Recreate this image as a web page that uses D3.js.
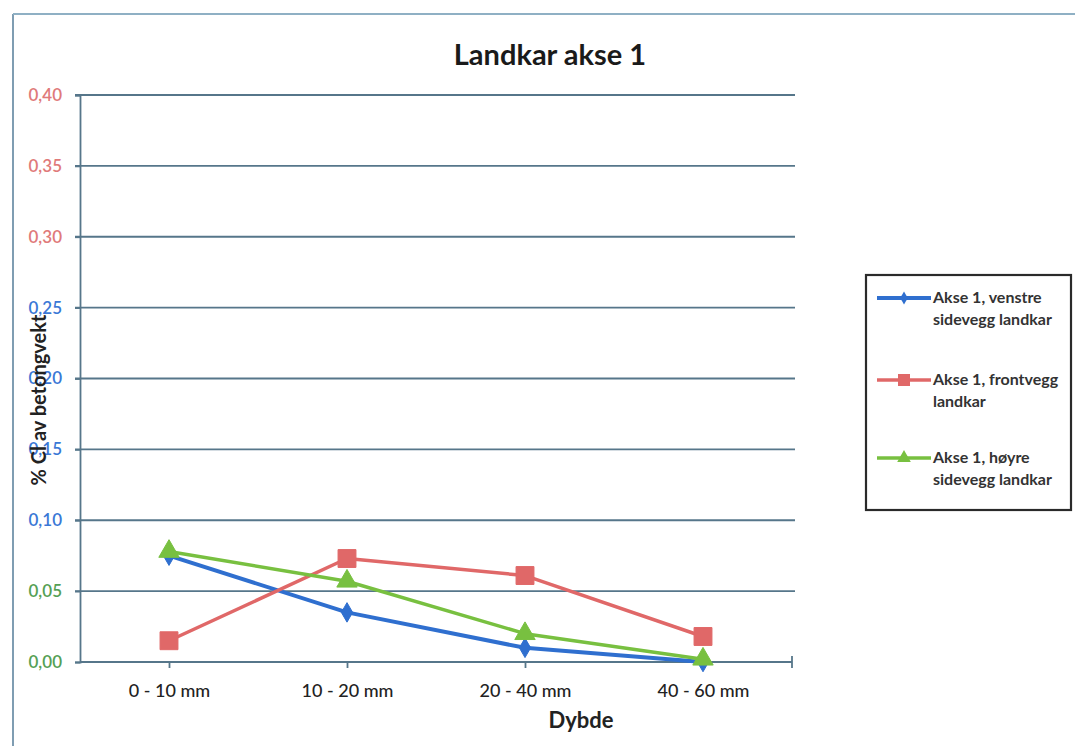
<!DOCTYPE html>
<html>
<head>
<meta charset="utf-8">
<script src="https://cdn.jsdelivr.net/npm/d3@7/dist/d3.min.js"></script>
<style>
  html, body { margin: 0; padding: 0; background: #fff; }
  svg { display: block; }
</style>
</head>
<body>
<svg id="chart" width="1075" height="746"></svg>
<script>
// ---- data ----
const categories = ["0 - 10 mm", "10 - 20 mm", "20 - 40 mm", "40 - 60 mm"];
const venstre = [0.075, 0.035, 0.010, 0.000];
const frontvegg = [0.015, 0.073, 0.061, 0.018];
const hoyre = [0.078, 0.057, 0.020, 0.002];
const seriesNames = [
  ["Akse 1, venstre", "sidevegg landkar"],
  ["Akse 1, frontvegg", "landkar"],
  ["Akse 1, høyre", "sidevegg landkar"]
];
const yTicks = [0, 0.05, 0.10, 0.15, 0.20, 0.25, 0.30, 0.35, 0.40];
const yTickColors = ["#55a055", "#55a055", "#3a78d6", "#3a78d6", "#3a78d6", "#3a78d6", "#e07a7a", "#e07a7a", "#e07a7a"];
const title = "Landkar akse 1";
const xTitle = "Dybde";
const yTitle = "% Cl av betongvekt";

// ---- layout ----
const svg = d3.select("#chart");
const font = "Lato, 'Open Sans', sans-serif";
const plot = { left: 80, right: 792, top: 95, bottom: 662 };

// outer scanned frame
svg.append("line").attr("x1", 13).attr("x2", 13).attr("y1", 14).attr("y2", 746)
  .attr("stroke", "#7f9db2").attr("stroke-width", 2);
svg.append("line").attr("x1", 13).attr("x2", 1075).attr("y1", 14).attr("y2", 14)
  .attr("stroke", "#8fb0c4").attr("stroke-width", 2);

const x = d3.scalePoint().domain(categories).range([plot.left, plot.right]).padding(0.5);
const y = d3.scaleLinear().domain([0, 0.40]).range([plot.bottom, plot.top]);

const gridColor = "#56768a";

// gridlines
svg.append("g").selectAll("line").data(yTicks.filter(d => d > 0)).join("line")
  .attr("x1", plot.left - 5).attr("x2", plot.right + 3)
  .attr("y1", d => y(d)).attr("y2", d => y(d))
  .attr("stroke", gridColor).attr("stroke-width", 1.8);

// y axis
const yAxis = d3.axisLeft(y).tickValues(yTicks).tickSize(5).tickFormat(d => d3.format(".2f")(d).replace(".", ","));
const gy = svg.append("g").attr("transform", `translate(${plot.left},0)`).call(yAxis);
gy.select(".domain").attr("stroke", gridColor).attr("stroke-width", 1.8);
gy.selectAll(".tick line").attr("stroke", gridColor).attr("stroke-width", 1.8);
gy.selectAll(".tick text").attr("x", -18).attr("font-family", font).attr("font-size", 17)
  .attr("font-weight", "600").attr("fill", (d, i) => yTickColors[i]);

// x axis
const xAxis = d3.axisBottom(x).tickSize(6).tickSizeOuter(0);
const gx = svg.append("g").attr("transform", `translate(0,${plot.bottom})`).call(xAxis);
gx.select(".domain").attr("d", `M${plot.left},0H${plot.right}`).attr("stroke", gridColor).attr("stroke-width", 1.8);
gx.selectAll(".tick line").attr("stroke", gridColor).attr("stroke-width", 1.8);
gx.selectAll(".tick text").attr("y", 22).attr("font-family", font).attr("font-size", 18)
  .attr("font-weight", "500").attr("fill", "#222");
gx.append("line").attr("x1", plot.right).attr("x2", plot.right).attr("y1", -6).attr("y2", 6)
  .attr("stroke", gridColor).attr("stroke-width", 1.8);

// titles
svg.append("text").attr("x", 550).attr("y", 65).attr("text-anchor", "middle")
  .attr("font-family", font).attr("font-weight", "bold").attr("font-size", 29).attr("fill", "#1a1a1a").text(title);
svg.append("text").attr("x", 581).attr("y", 728).attr("text-anchor", "middle")
  .attr("font-family", font).attr("font-weight", "bold").attr("font-size", 22).attr("fill", "#222").text(xTitle);
svg.append("text").attr("transform", "translate(46,400) rotate(-90)").attr("text-anchor", "middle")
  .attr("font-family", font).attr("font-weight", "bold").attr("font-size", 20).attr("fill", "#222").text(yTitle);

// series
const series = [
  { values: venstre, color: "#2f6fcf", width: 4, marker: "diamond", size: 110 },
  { values: frontvegg, color: "#e06868", width: 3.5, marker: "square", size: 320 },
  { values: hoyre, color: "#78c040", width: 3.5, marker: "triangle", size: 180 }
];
const symbolMap = { diamond: d3.symbolDiamond, square: d3.symbolSquare, triangle: d3.symbolTriangle };
const line = d3.line().x((d, i) => x(categories[i])).y(d => y(d));

series.forEach(s => {
  svg.append("path").datum(s.values).attr("d", line)
    .attr("fill", "none").attr("stroke", s.color).attr("stroke-width", s.width).attr("stroke-linejoin", "round");
});
series.forEach(s => {
  svg.append("g").selectAll("path").data(s.values).join("path")
    .attr("transform", (d, i) => `translate(${x(categories[i])},${y(d)})`)
    .attr("d", d3.symbol().type(symbolMap[s.marker]).size(s.size))
    .attr("fill", s.color).attr("stroke", s.color).attr("stroke-width", 1);
});

// legend
const lg = svg.append("g");
lg.append("rect").attr("x", 866).attr("y", 275).attr("width", 205).attr("height", 235)
  .attr("fill", "#fff").attr("stroke", "#2a2a2a").attr("stroke-width", 2.2);
const legendY = [298, 380, 458];
series.forEach((s, i) => {
  const ly = legendY[i];
  lg.append("line").attr("x1", 877).attr("x2", 931).attr("y1", ly).attr("y2", ly)
    .attr("stroke", s.color).attr("stroke-width", s.width);
  lg.append("path").attr("transform", `translate(904,${ly})`)
    .attr("d", d3.symbol().type(symbolMap[s.marker]).size(s.size * 0.45))
    .attr("fill", s.color);
  seriesNames[i].forEach((t, j) => {
    lg.append("text").attr("x", 933).attr("y", ly + 5 + j * 22)
      .attr("font-family", font).attr("font-size", 16).attr("font-weight", "bold").attr("fill", "#333")
      .attr("textLength", null).text(t);
  });
});
</script>
</body>
</html>
